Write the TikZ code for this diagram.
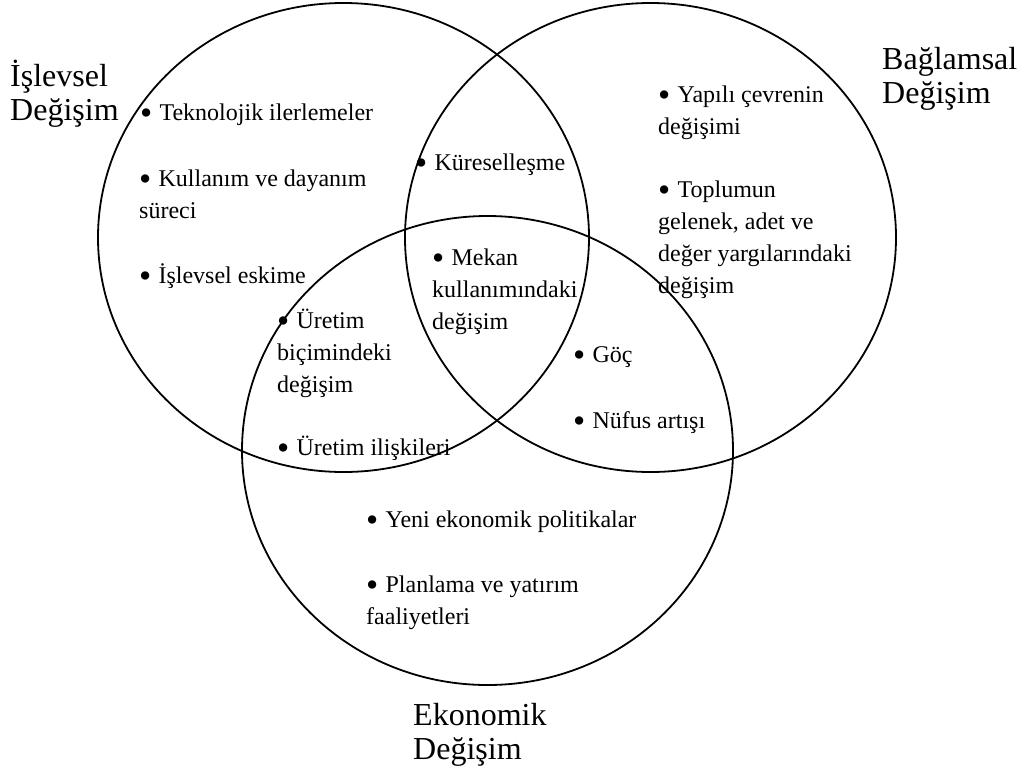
\documentclass[tikz,border=0pt]{standalone}
\usepackage{fontspec}
\setmainfont{Liberation Serif}
\usepackage{tikz}

\newcommand{\itm}{\raisebox{-0.17em}{\scalebox{1.45}{\textbullet}}\hspace{0.3em}}

\tikzset{
	item/.style={anchor=base west, inner sep=0pt, align=left, font=\fontsize{24}{32}\selectfont},
	title/.style={anchor=base west, inner sep=0pt, align=left, font=\fontsize{32}{34}\selectfont},
	set/.style={line width=1.8pt}
}

\begin{document}
\begin{tikzpicture}[x=1pt, y=-1pt]
	\useasboundingbox (0, 0) rectangle (1021, 774);
	% Sets:
	\draw[set] (343.5, 237.5) ellipse [x radius=245.5pt, y radius=234.5pt];
	\draw[set] (650.5, 237.5) ellipse [x radius=245.5pt, y radius=234.5pt];
	\draw[set] (487.5, 450.5) ellipse [x radius=245.5pt, y radius=234.5pt];
	% Titles (placed at the baseline of their last line):
	\node[title](isl) at (10, 120){İşlevsel\\Değişim};
	\node[title](bag) at (882, 103){Bağlamsal\\Değişim};
	\node[title](eko) at (413, 759){Ekonomik\\Değişim};
	% Items:
	\node[item](tek) at (140, 120){\itm Teknolojik ilerlemeler};
	\node[item](kul) at (139, 218){\itm Kullanım ve dayanım\\süreci};
	\node[item](esk) at (139, 283){\itm İşlevsel eskime};
	\node[item](kur) at (415, 170){\itm Küreselleşme};
	\node[item](mek) at (432, 329){\itm Mekan\\kullanımındaki\\değişim};
	\node[item](ubc) at (277, 392){\itm Üretim\\biçimindeki\\değişim};
	\node[item](uil) at (277, 455){\itm Üretim ilişkileri};
	\node[item](goc) at (573, 362){\itm Göç};
	\node[item](nuf) at (573, 428){\itm Nüfus artışı};
	\node[item](yap) at (658, 134){\itm Yapılı çevrenin\\değişimi};
	\node[item](top) at (658, 293){\itm Toplumun\\gelenek, adet ve\\değer yargılarındaki\\değişim};
	\node[item](yen) at (366, 527){\itm Yeni ekonomik politikalar};
	\node[item](pla) at (366, 624){\itm Planlama ve yatırım\\faaliyetleri};
\end{tikzpicture}
\end{document}
